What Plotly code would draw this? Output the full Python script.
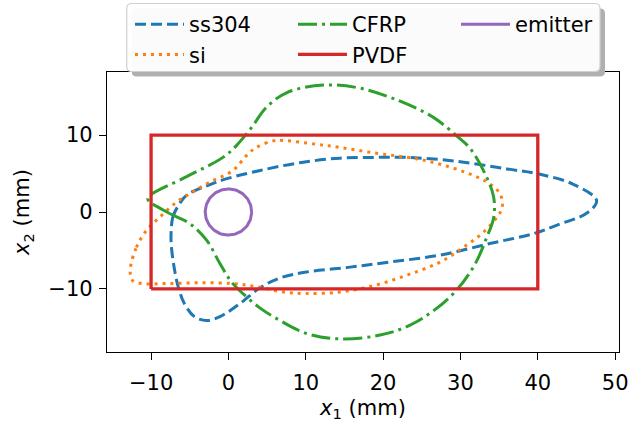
import numpy as np
import plotly.graph_objects as go

# ---- data (mm) ----
ss304_x = [-7.4, -7.2, -6.5, -5.4, -2.8, -0.3, 4.1, 9.2, 14.4, 19.0, 23.0, 29.5, 36.0, 40.3, 44.6, 47.6, 46.4,
           42.5, 39.5, 33.8, 27.4, 20.9, 15.5, 10.1, 6.6, 4.0, 1.5, -1.1, -2.8, -4.4, -5.7, -6.5, -7.1, -7.4, -7.4]
ss304_y = [-2.4, -0.7, 0.8, 2.2, 3.4, 4.3, 5.4, 6.4, 7.0, 7.1, 7.1, 6.6, 5.6, 4.9, 3.6, 1.5, -0.1,
           -1.7, -2.8, -4.1, -5.6, -6.5, -7.2, -7.8, -8.6, -9.9, -11.9, -13.6, -14.1, -13.6, -11.9, -9.7, -6.7, -4.1, -2.4]

si_x = [-12.7, -11.9, -10.6, -8.9, -6.7, -4.6, -2.4, 0.6, 2.3, 3.6, 5.8, 7.1, 11.4, 14.4, 18.7, 24.4, 27.4, 30.8,
        33.4, 35.1, 35.4, 34.7, 33.0, 30.8, 27.4, 23.1, 18.7, 14.4, 10.0, 7.1, 3.6, 0.6, -3.7, -8.0, -11.1, -12.4, -12.7]
si_y = [-7.6, -4.6, -2.4, -0.7, 1.3, 2.6, 3.9, 5.4, 7.3, 8.4, 9.25, 9.3, 8.8, 8.4, 7.7, 6.9, 6.2, 5.1,
        3.9, 2.4, 0.6, -0.7, -2.6, -4.3, -6.5, -8.2, -9.6, -10.4, -10.6, -10.4, -9.7, -9.3, -9.2, -9.3, -9.3, -8.9, -7.6]

cfrp_x = [-10.4, -7.6, -5.0, -2.8, -1.1, 0.4, 2.3, 4.1, 5.8, 10.1, 14.4, 19.6, 23.9, 28.7, 31.7, 33.4, 34.3, 34.3,
          33.4, 31.3, 29.5, 26.5, 22.2, 17.0, 12.3, 7.5, 4.9, 3.0, 1.0, -0.7, -5.4, -10.2, -10.4]
cfrp_y = [1.6, -0.2, -1.5, -3.7, -6.7, -9.1, -11.0, -12.5, -13.6, -15.8, -16.5, -16.0, -14.5, -11.0, -7.1, -3.3, -0.7, 1.9,
          4.5, 8.2, 9.9, 12.3, 14.4, 16.1, 16.5, 15.5, 13.6, 11.0, 8.6, 7.1, 4.6, 2.1, 1.6]

pvdf_x = [-10, 40, 40, -10, -10]
pvdf_y = [-10, -10, 10, 10, -10]

emitter_center = (0.0, 0.0)
emitter_radius = 3.0

x_range = [-15.7, 50.5]
y_range = [-18.2, 18.2]
x_ticks = [-10, 0, 10, 20, 30, 40, 50]
y_ticks = [-10, 0, 10]

# ---- colours ----
C_BLUE, C_ORANGE, C_GREEN, C_RED, C_PURPLE = "#1f77b4", "#ff7f0e", "#2ca02c", "#d62728", "#9467bd"

FONT = "DejaVu Sans"
FS = 21

t = np.linspace(0, 2 * np.pi, 121)
em_x = emitter_center[0] + emitter_radius * np.cos(t)
em_y = emitter_center[1] + emitter_radius * np.sin(t)

fig = go.Figure()
fig.add_trace(go.Scatter(x=ss304_x, y=ss304_y, mode="lines", name="ss304", legendrank=1,
                         line=dict(color=C_BLUE, width=3, dash="11px,5px", shape="spline", smoothing=1.0)))
fig.add_trace(go.Scatter(x=si_x, y=si_y, mode="lines", name="si", legendrank=4,
                         line=dict(color=C_ORANGE, width=3, dash="3px,5px", shape="spline", smoothing=1.0)))
fig.add_trace(go.Scatter(x=cfrp_x, y=cfrp_y, mode="lines", name="CFRP", legendrank=2,
                         line=dict(color=C_GREEN, width=3, dash="19px,5px,3px,5px", shape="spline", smoothing=1.0)))
fig.add_trace(go.Scatter(x=pvdf_x, y=pvdf_y, mode="lines", name="PVDF", legendrank=5,
                         line=dict(color=C_RED, width=3.3)))
fig.add_trace(go.Scatter(x=em_x, y=em_y, mode="lines", name="emitter", legendrank=3,
                         line=dict(color=C_PURPLE, width=3)))

# plot area in pixels
L, R, T, B = 107, 10, 72, 71
W, H = 629, 423
pw, ph = W - L - R, H - T - B

def px2paper(px, py):
    return (px - L) / pw, (H - B - py) / ph

def rounded_rect(x0, y0, x1, y1, r):
    def P(x, y):
        a, b = px2paper(x, y)
        return f"{a:.5f},{b:.5f}"
    return (f"M{P(x0 + r, y0)} L{P(x1 - r, y0)} Q{P(x1, y0)} {P(x1, y0 + r)} "
            f"L{P(x1, y1 - r)} Q{P(x1, y1)} {P(x1 - r, y1)} L{P(x0 + r, y1)} "
            f"Q{P(x0, y1)} {P(x0, y1 - r)} L{P(x0, y0 + r)} Q{P(x0, y0)} {P(x0 + r, y0)} Z")

lx0, ly0, lx1, ly1 = 126.7, 3.5, 600, 71.5
fig.add_shape(type="path", xref="paper", yref="paper",
              path=rounded_rect(lx0 + 5, ly0 + 5, lx1 + 5, ly1 + 5, 5),
              fillcolor="#b0b0b0", line=dict(width=0), layer="above")
fig.add_shape(type="path", xref="paper", yref="paper",
              path=rounded_rect(lx0, ly0, lx1, ly1, 5),
              fillcolor="rgba(255,255,255,0.95)", line=dict(color="#d0d0d0", width=1.2), layer="above")

lxp, lyp = px2paper(130, 4)
fig.update_layout(
    width=W, height=H,
    margin=dict(l=L, r=R, t=T, b=B, pad=0, autoexpand=False),
    plot_bgcolor="white", paper_bgcolor="white",
    font=dict(family=FONT, size=FS, color="black"),
    showlegend=True,
    legend=dict(orientation="h", x=lxp, y=lyp, xanchor="left", yanchor="top",
                bgcolor="rgba(0,0,0,0)", borderwidth=0, entrywidth=99, entrywidthmode="pixels",
                itemwidth=49, font=dict(family=FONT, size=FS), traceorder="normal"),
    xaxis=dict(range=x_range, tickvals=x_ticks, ticktext=[("\u2212" + str(-v)) if v < 0 else str(v) for v in x_ticks],
               showgrid=False, zeroline=False, showline=True, linecolor="black", linewidth=1.3, mirror=True,
               ticks="outside", ticklen=7, tickwidth=1.3, tickcolor="black", ticklabelstandoff=5,
               title=dict(text="<i>x</i><sub>1</sub> (mm)", font=dict(family=FONT, size=FS), standoff=5)),
    yaxis=dict(range=y_range, tickvals=y_ticks, ticktext=[("\u2212" + str(-v)) if v < 0 else str(v) for v in y_ticks],
               showgrid=False, zeroline=False, showline=True, linecolor="black", linewidth=1.3, mirror=True,
               ticks="outside", ticklen=7, tickwidth=1.3, tickcolor="black", ticklabelstandoff=2,
               title=dict(text="<i>x</i><sub>2</sub> (mm)", font=dict(family=FONT, size=FS), standoff=12)),
)

fig.write_html("out.html", config={"displayModeBar": False},
               post_script="document.body.style.margin='0';document.body.style.overflow='hidden';")
